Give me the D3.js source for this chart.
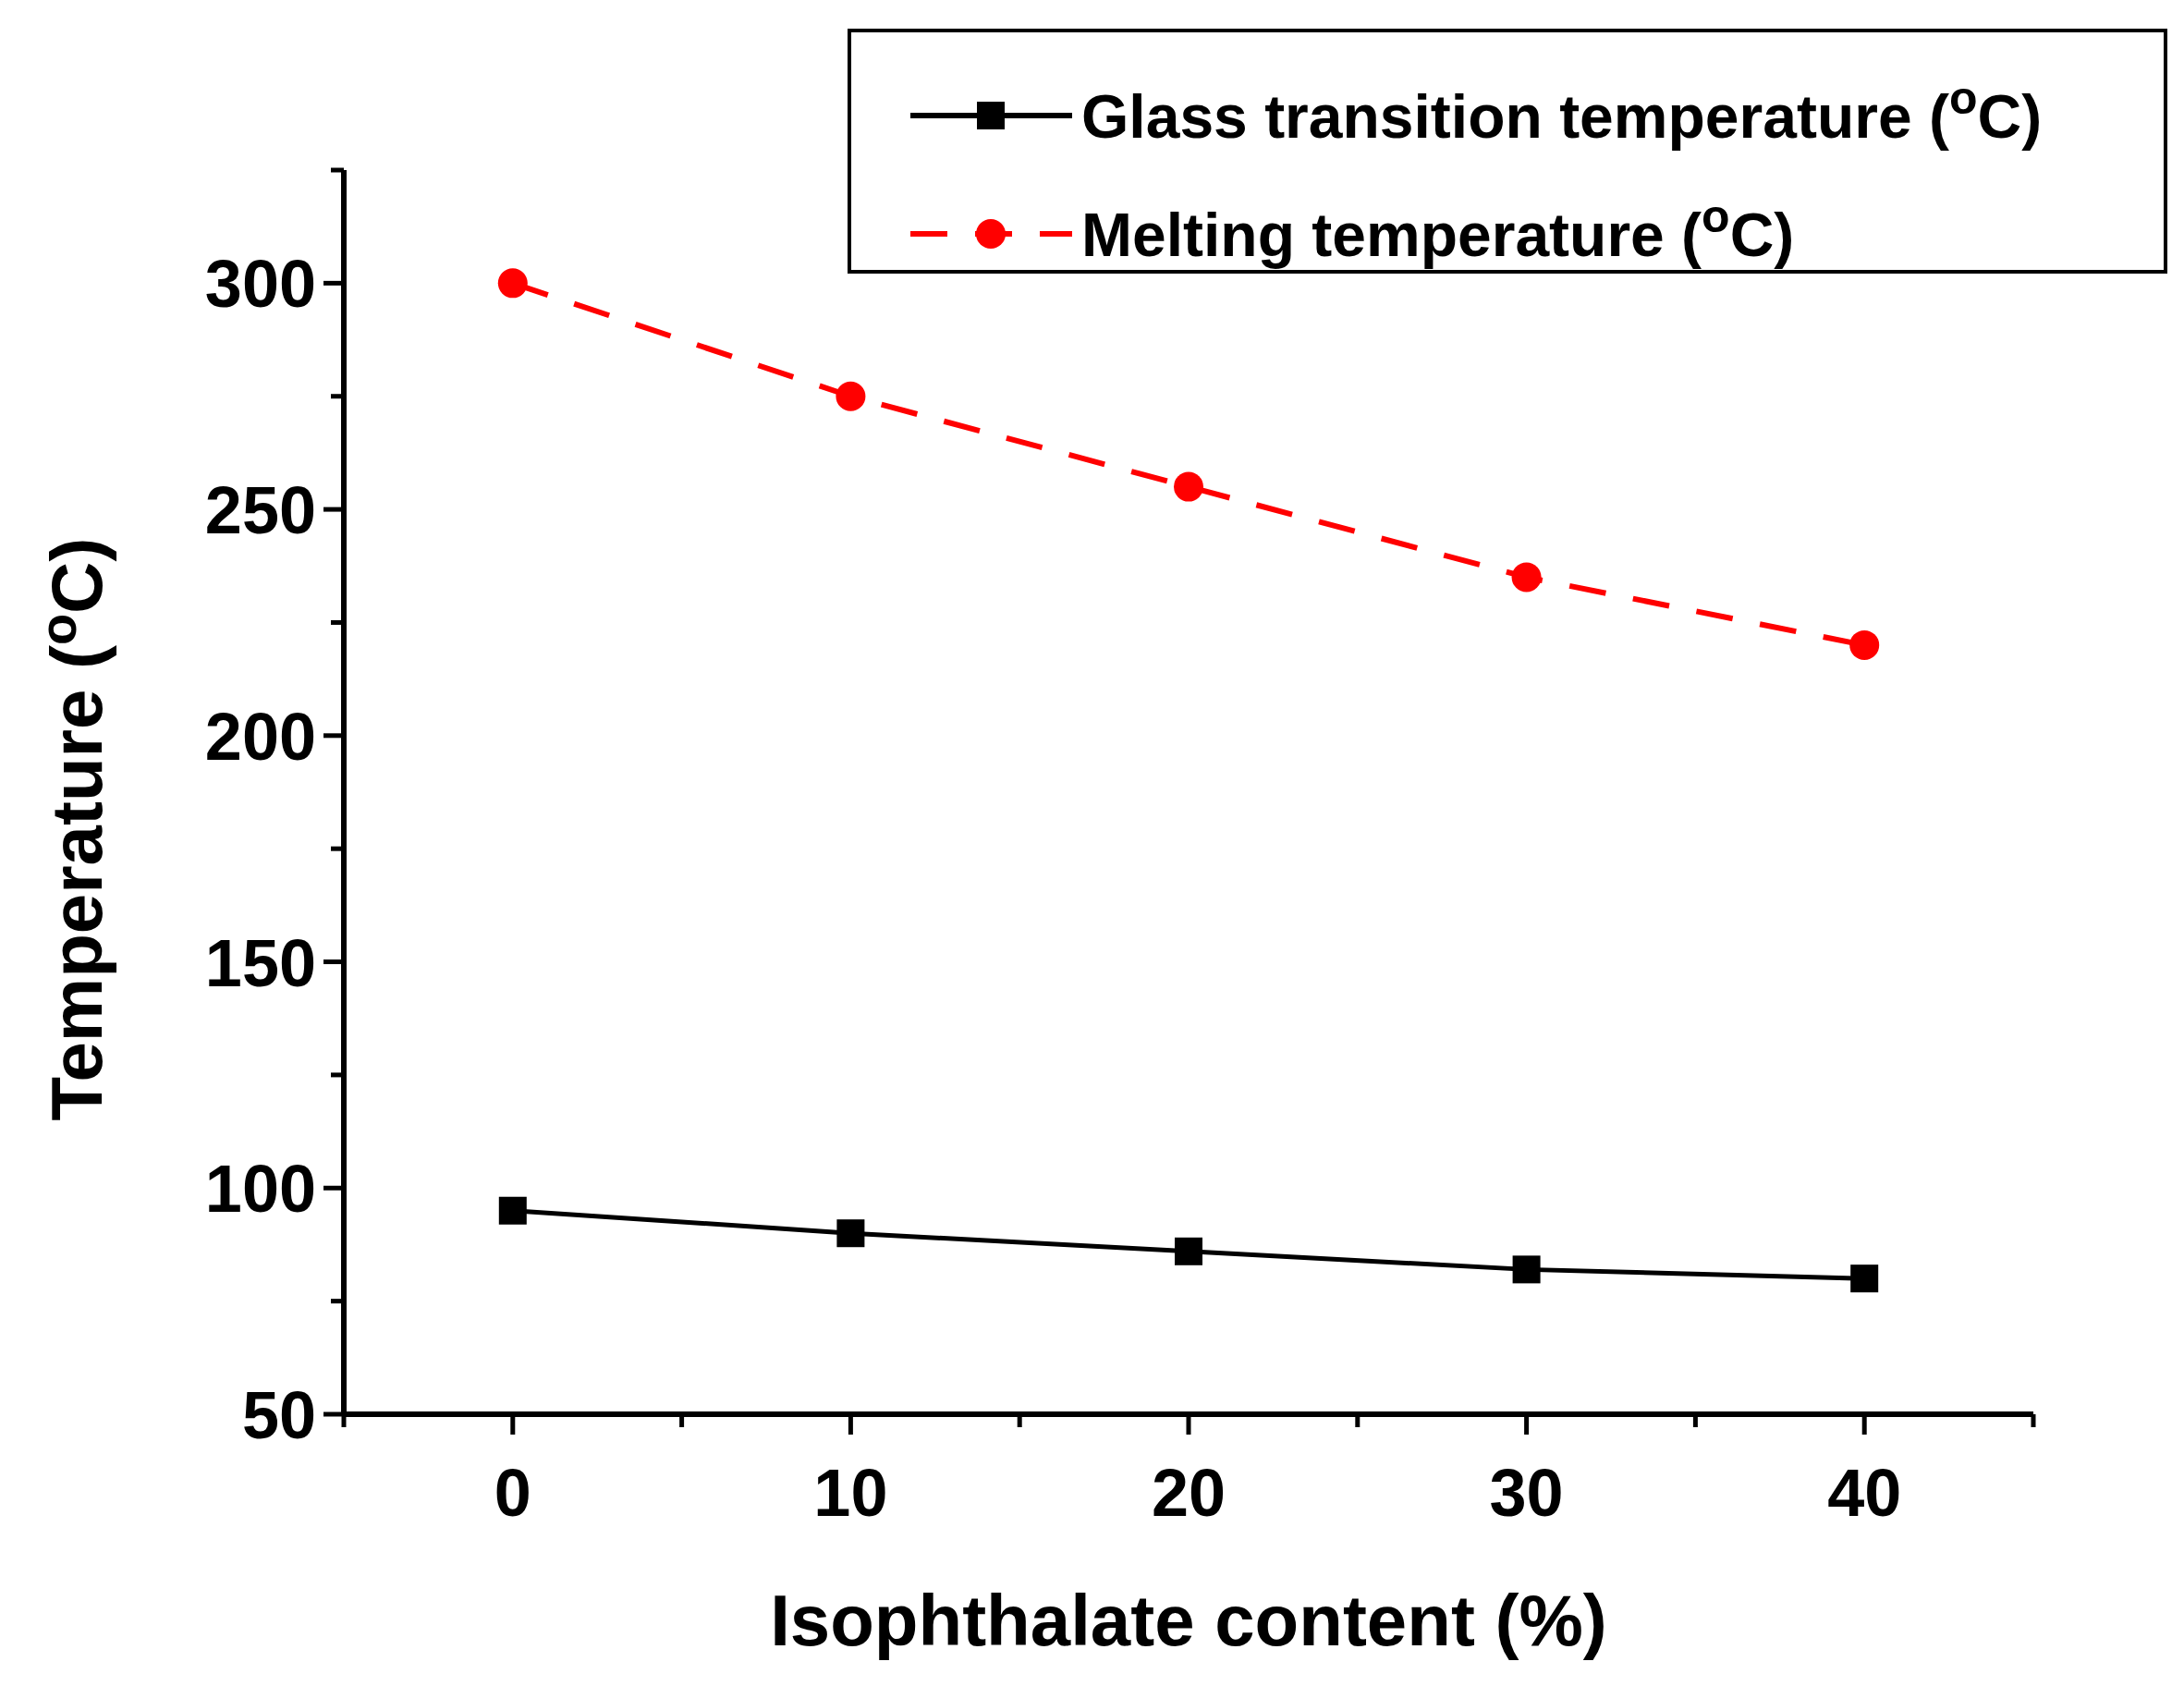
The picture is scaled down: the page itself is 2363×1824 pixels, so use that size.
<!DOCTYPE html>
<html><head><meta charset="utf-8">
<script src="https://cdn.jsdelivr.net/npm/d3@7"></script>
<style>body{margin:0;background:#fff}text{font-family:"Liberation Sans",Arial,sans-serif;font-weight:bold}</style>
</head><body><svg id="c" width="2363" height="1824"></svg>
<script>
const xValues=[0,10,20,30,40];
const tgValues=[95,90,86,82,80];
const tmValues=[300,275,255,235,220];
const xTicks=[0,10,20,30,40];
const yTicks=[50,100,150,200,250,300];
const svg=d3.select("#c");
const L=372,R=2200,T=184,B=1530;
const x=d3.scaleLinear().domain([-5,45]).range([L,R]);
const y=d3.scaleLinear().domain([50,325]).range([B,T]);
// axes lines
svg.append("line").attr("x1",L).attr("x2",L).attr("y1",T).attr("y2",B).attr("stroke","#000").attr("stroke-width",6);
svg.append("line").attr("x1",L).attr("x2",R).attr("y1",B).attr("y2",B).attr("stroke","#000").attr("stroke-width",6);
d3.range(-5,46,5).forEach(v=>{const maj=v%10===0;svg.append("line").attr("x1",x(v)).attr("x2",x(v)).attr("y1",B).attr("y2",B+(maj?22:14)).attr("stroke","#000").attr("stroke-width",5);});
d3.range(50,326,25).forEach(v=>{const maj=v%50===0;svg.append("line").attr("x1",L).attr("x2",L-(maj?22:14)).attr("y1",y(v)).attr("y2",y(v)).attr("stroke","#000").attr("stroke-width",5);});
xTicks.forEach(v=>svg.append("text").attr("x",x(v)).attr("y",B+110).attr("text-anchor","middle").attr("font-size",72).text(v));
yTicks.forEach(v=>svg.append("text").attr("x",L-30).attr("y",y(v)+26).attr("text-anchor","end").attr("font-size",72).text(v));
svg.append("text").attr("x",(L+R)/2).attr("y",1780).attr("text-anchor","middle").attr("font-size",78).text("Isophthalate content (%)");
const yl=svg.append("text").attr("transform",`translate(${110},${(T+B)/2+40}) rotate(-90)`).attr("text-anchor","middle").attr("font-size",78);
yl.append("tspan").text("Temperature (");yl.append("tspan").attr("dy",-28).attr("font-size",56).text("o");yl.append("tspan").attr("dy",28).text("C)");
const line=d3.line().x((d,i)=>x(xValues[i])).y(d=>y(d));
svg.append("path").datum(tgValues).attr("d",line).attr("fill","none").attr("stroke","#000").attr("stroke-width",5);
svg.selectAll(".sq").data(tgValues).enter().append("rect").attr("x",(d,i)=>x(xValues[i])-15).attr("y",d=>y(d)-15).attr("width",30).attr("height",30).attr("fill","#000");
svg.append("path").datum(tmValues).attr("d",line).attr("fill","none").attr("stroke","#f00").attr("stroke-width",6).attr("stroke-dasharray","40,30");
svg.selectAll(".ci").data(tmValues).enter().append("circle").attr("cx",(d,i)=>x(xValues[i])).attr("cy",d=>y(d)).attr("r",16).attr("fill","#f00");
// legend
svg.append("rect").attr("x",919).attr("y",33).attr("width",1424).attr("height",261).attr("fill","#fff").attr("stroke","#000").attr("stroke-width",4);
const legs=[{n:"Glass transition temperature (",c:"#000",dash:null,y:125,sym:"rect"},{n:"Melting temperature (",c:"#f00",dash:"40,30",y:253,sym:"circle"}];
legs.forEach(l=>{
 svg.append("line").attr("x1",985).attr("x2",1160).attr("y1",l.y).attr("y2",l.y).attr("stroke",l.c).attr("stroke-width",6).attr("stroke-dasharray",l.dash);
 if(l.sym==="rect")svg.append("rect").attr("x",1057).attr("y",l.y-15).attr("width",30).attr("height",30).attr("fill",l.c);
 else svg.append("circle").attr("cx",1072).attr("cy",l.y).attr("r",16).attr("fill",l.c);
 const t=svg.append("text").attr("x",1170).attr("y",l.y+24).attr("font-size",66);
 t.append("tspan").text(l.n);t.append("tspan").attr("dy",-26).attr("font-size",50).text("o");t.append("tspan").attr("dy",26).text("C)");
});
</script></body></html>
